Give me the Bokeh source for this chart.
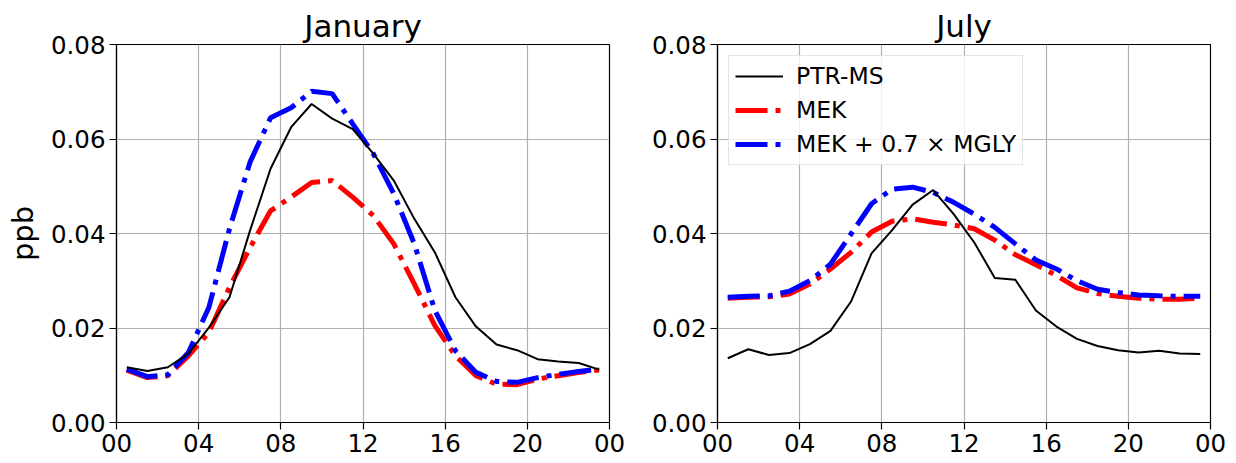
from bokeh.plotting import figure
from bokeh.layouts import row
from bokeh.models import FixedTicker, Legend, LegendItem, Range1d, NumeralTickFormatter
from bokeh.embed import file_html
from bokeh.resources import INLINE

hours = [h + 0.5 for h in range(24)]

jan_ptr = [0.0117, 0.0109, 0.0117, 0.0146, 0.0201, 0.0265, 0.0406, 0.0537, 0.0625, 0.0674, 0.0643, 0.0621,
           0.0569, 0.0512, 0.0431, 0.0360, 0.0265, 0.0203, 0.0165, 0.0153, 0.0134, 0.0129, 0.0126, 0.0112]
jan_mek = [0.0111, 0.0095, 0.0099, 0.0141, 0.0191, 0.0286, 0.0370, 0.0448, 0.0477, 0.0508, 0.0512, 0.0477,
           0.0438, 0.0378, 0.0293, 0.0205, 0.0141, 0.0099, 0.0081, 0.0080, 0.0092, 0.0099, 0.0106, 0.0111]
jan_mgly = [0.0113, 0.0097, 0.0101, 0.0148, 0.0244, 0.0410, 0.0551, 0.0645, 0.0666, 0.0701, 0.0696, 0.0632,
            0.0569, 0.0484, 0.0378, 0.0237, 0.0152, 0.0106, 0.0087, 0.0085, 0.0095, 0.0102, 0.0108, 0.0113]

jul_ptr = [0.0136, 0.0155, 0.0143, 0.0147, 0.0166, 0.0194, 0.0256, 0.0358, 0.0407, 0.0461, 0.0492, 0.0441,
           0.0381, 0.0306, 0.0302, 0.0237, 0.0203, 0.0177, 0.0162, 0.0153, 0.0148, 0.0152, 0.0146, 0.0145]
jul_mek = [0.0263, 0.0265, 0.0266, 0.0272, 0.0293, 0.0325, 0.0360, 0.0403, 0.0426, 0.0431, 0.0424, 0.0418,
           0.0410, 0.0386, 0.0355, 0.0334, 0.0311, 0.0285, 0.0273, 0.0267, 0.0263, 0.0261, 0.0261, 0.0263]
jul_mgly = [0.0265, 0.0267, 0.0268, 0.0278, 0.0300, 0.0335, 0.0399, 0.0463, 0.0494, 0.0498, 0.0487, 0.0466,
            0.0441, 0.0413, 0.0378, 0.0344, 0.0325, 0.0300, 0.0282, 0.0275, 0.0270, 0.0268, 0.0267, 0.0267]

x_ticks = [0, 4, 8, 12, 16, 20, 24]
x_labels = ["00", "04", "08", "12", "16", "20", "00"]
y_ticks = [0.0, 0.02, 0.04, 0.06, 0.08]

FONT = "DejaVu Sans"
DASHDOT = "32 8 5 8"


def make_panel(title, ptr, mek, mgly, width, left, right, ylabel=None, legend=False):
    p = figure(width=width, height=463, output_backend="svg", toolbar_location=None,
               x_range=Range1d(0, 24), y_range=Range1d(0, 0.08),
               min_border_left=left, min_border_right=right, min_border_top=44, min_border_bottom=41,
               title=title)
    p.title.align = "center"
    p.title.text_font = FONT
    p.title.text_font_size = "31px"
    p.title.text_font_style = "normal"
    p.title.text_color = "black"
    p.title.standoff = 1
    p.outline_line_color = "black"
    p.outline_line_width = 1.2
    p.outline_line_alpha = 1
    p.background_fill_color = "white"
    p.border_fill_color = "white"

    p.xaxis.ticker = FixedTicker(ticks=x_ticks)
    p.xaxis.major_label_overrides = {t: l for t, l in zip(x_ticks, x_labels)}
    p.yaxis.ticker = FixedTicker(ticks=y_ticks)
    p.yaxis.formatter = NumeralTickFormatter(format="0.00")
    for ax in (p.xaxis[0], p.yaxis[0]):
        ax.major_label_text_font = FONT
        ax.major_label_text_font_size = "24.5px"
        ax.major_label_text_color = "black"
        ax.major_tick_out = 7
        ax.major_tick_in = 0
        ax.minor_tick_out = 0
        ax.minor_tick_in = 0
        ax.axis_line_color = "black"
        ax.major_tick_line_color = "black"
        ax.major_tick_line_width = 1.2
        ax.axis_line_width = 1.2
        ax.major_label_standoff = 4
    if ylabel:
        p.yaxis.axis_label = ylabel
        p.yaxis.axis_label_text_font = FONT
        p.yaxis.axis_label_text_font_size = "29px"
        p.yaxis.axis_label_text_font_style = "normal"
        p.yaxis.axis_label_text_color = "black"
        p.yaxis.axis_label_standoff = 8
    p.grid.grid_line_color = "#b0b0b0"
    p.grid.grid_line_width = 1.2

    r_mek = p.line(hours, mek, line_color="red", line_width=5, line_dash=DASHDOT)
    r_mgly = p.line(hours, mgly, line_color="blue", line_width=5, line_dash=DASHDOT)
    r_ptr = p.line(hours, ptr, line_color="black", line_width=2)

    if legend:
        lg = Legend(items=[LegendItem(label="PTR-MS", renderers=[r_ptr]),
                           LegendItem(label="MEK", renderers=[r_mek]),
                           LegendItem(label="MEK + 0.7 \u00d7 MGLY", renderers=[r_mgly])],
                    location="top_left")
        lg.label_text_font = FONT
        lg.label_text_font_size = "23.5px"
        lg.label_text_color = "black"
        lg.glyph_width = 48
        lg.glyph_height = 28
        lg.label_height = 28
        lg.label_standoff = 13
        lg.spacing = 6
        lg.padding = 6
        lg.margin = 11
        lg.border_line_color = "#cccccc"
        lg.border_line_width = 1.2
        lg.background_fill_alpha = 0.8
        p.add_layout(lg)
    return p


p1 = make_panel("January", jan_ptr, jan_mek, jan_mgly, 630, 116, 21, ylabel="ppb")
p2 = make_panel("July", jul_ptr, jul_mek, jul_mgly, 606, 87, 26, legend=True)

layout = row(p1, p2)
open("out.html", "w").write(file_html(layout, INLINE))
